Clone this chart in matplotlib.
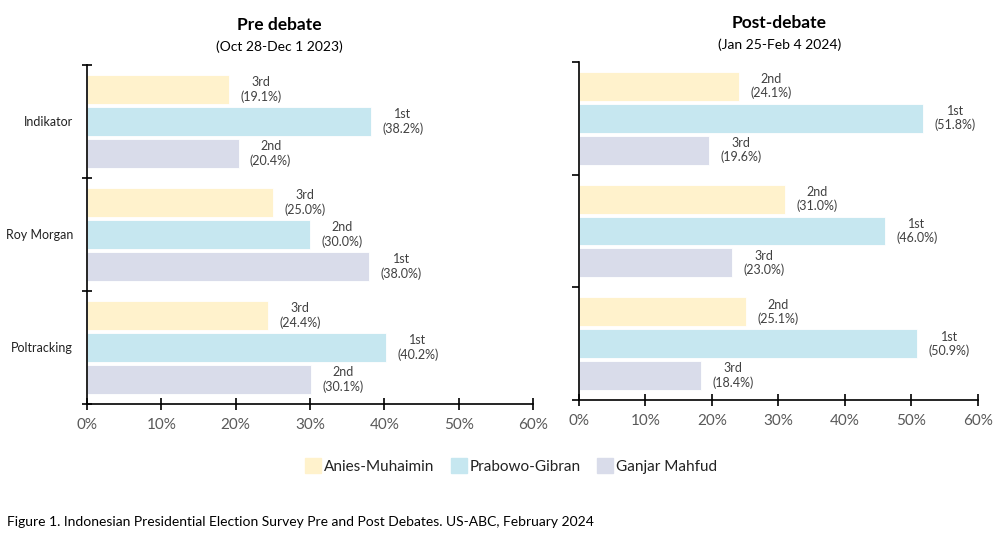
import matplotlib.pyplot as plt
import matplotlib.patches as mpatches
import numpy as np

plt.rcParams['font.family'] = ['Lato', 'DejaVu Sans']

pollsters = ['Indikator', 'Roy Morgan', 'Poltracking']
candidates = ['Anies-Muhaimin', 'Prabowo-Gibran', 'Ganjar Mahfud']
colors = ['#FFF2CC', '#C6E7F0', '#D9DCEA']

pre_anies = [19.1, 25.0, 24.4]
pre_prabowo = [38.2, 30.0, 40.2]
pre_ganjar = [20.4, 38.0, 30.1]
pre_rank = [['3rd', '1st', '2nd'], ['3rd', '2nd', '1st'], ['3rd', '1st', '2nd']]

post_anies = [24.1, 31.0, 25.1]
post_prabowo = [51.8, 46.0, 50.9]
post_ganjar = [19.6, 23.0, 18.4]
post_rank = [['2nd', '1st', '3rd'], ['2nd', '1st', '3rd'], ['2nd', '1st', '3rd']]

xticks = [0, 10, 20, 30, 40, 50, 60]

fig = plt.figure(figsize=(10.02, 5.48), dpi=100)
ax1 = fig.add_axes([0.0868, 0.2628, 0.4451, 0.6186])
ax2 = fig.add_axes([0.5778, 0.2701, 0.3982, 0.6168])

y = np.arange(len(pollsters))
off = 0.283
h = 0.257


def draw(ax, series, ranks, yticklabels, tickdir):
    for i, vals in enumerate(series):
        bars = ax.barh(y + (i - 1) * off, vals, height=h, color=colors[i],
                       edgecolor='white', linewidth=0.6)
        for j, b in enumerate(bars):
            ax.annotate('%s\n(%.1f%%)' % (ranks[j][i], vals[j]),
                        xy=(vals[j], b.get_y() + b.get_height() / 2),
                        xytext=(23, 0), textcoords='offset points',
                        ha='center', va='center', fontsize=9,
                        color='#404040', linespacing=1.15)
    ax.set_xlim(0, 60)
    ax.set_ylim(2.5, -0.5)
    ax.set_xticks(xticks)
    ax.set_xticklabels(['%d%%' % t for t in xticks], fontsize=11, color='#595959')
    ax.set_yticks([-0.5, 0.5, 1.5, 2.5])
    ax.set_yticklabels([])
    ax.set_yticks(y, minor=True)
    ax.set_yticklabels(yticklabels, minor=True, fontsize=9, color='#222222')
    ax.tick_params(axis='y', which='minor', length=0, pad=10)
    ax.tick_params(axis='y', which='major', direction=tickdir, length=7 if tickdir == 'inout' else 5, width=1.2)
    ax.tick_params(axis='x', direction='inout', length=8, width=1.2, pad=6)
    for s in ['top', 'right']:
        ax.spines[s].set_visible(False)
    for s in ['left', 'bottom']:
        ax.spines[s].set_linewidth(1.2)


draw(ax1, [pre_anies, pre_prabowo, pre_ganjar], pre_rank, pollsters, 'inout')
draw(ax2, [post_anies, post_prabowo, post_ganjar], post_rank, [], 'out')

fig.text(0.279, 0.955, 'Pre debate', ha='center', va='center', fontsize=12.5, fontweight='bold')
fig.text(0.279, 0.915, '(Oct 28-Dec 1 2023)', ha='center', va='center', fontsize=10)
fig.text(0.778, 0.958, 'Post-debate', ha='center', va='center', fontsize=12.5, fontweight='bold')
fig.text(0.778, 0.918, '(Jan 25-Feb 4 2024)', ha='center', va='center', fontsize=10)

handles = [mpatches.Patch(color=c, label=l) for c, l in zip(colors, candidates)]
fig.legend(handles=handles, loc='center', bbox_to_anchor=(0.51, 0.15), ncol=3,
           frameon=False, fontsize=11, handlelength=1.05, handleheight=1.1,
           handletextpad=0.15, columnspacing=1.1, labelcolor='#222222')

fig.text(0.007, 0.048, 'Figure 1. Indonesian Presidential Election Survey Pre and Post Debates. US-ABC, February 2024',
         ha='left', va='center', fontsize=10)

plt.savefig('out.png', dpi=100)
